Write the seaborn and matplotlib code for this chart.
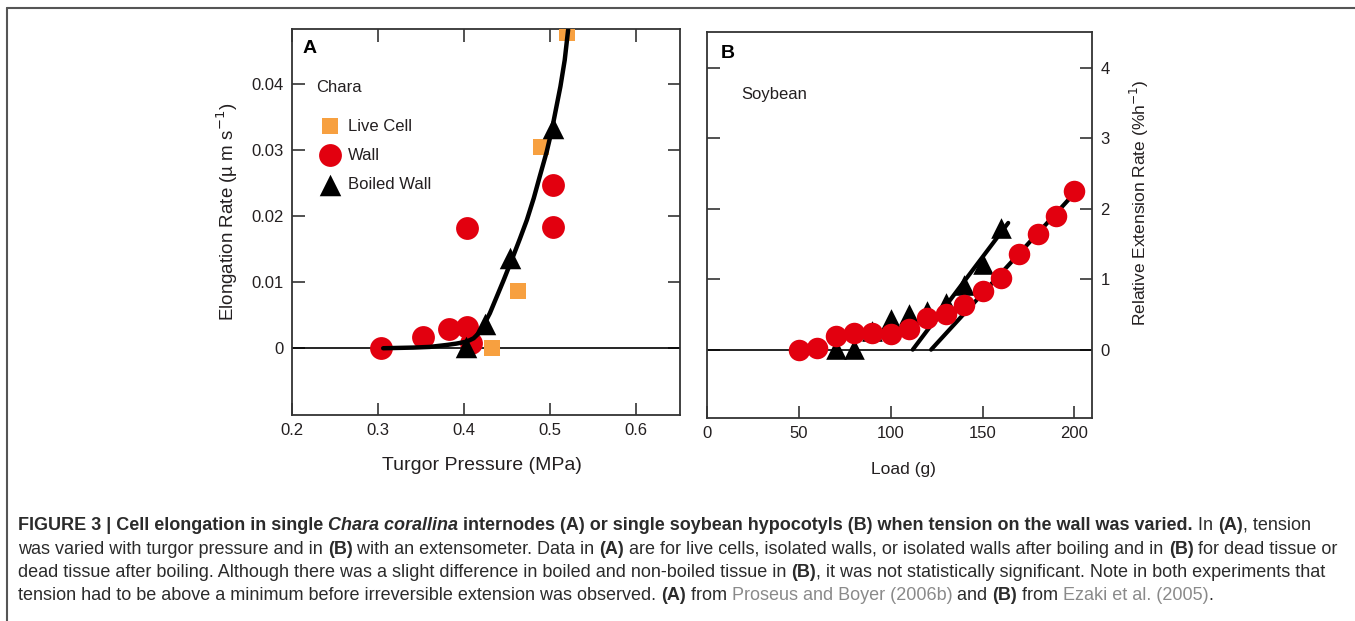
import matplotlib
matplotlib.use("Agg")
import matplotlib.pyplot as plt
import seaborn as sns

# ---- panel A: Chara (turgor pressure vs elongation rate)
turgor_live = [0.520, 0.489, 0.463, 0.433]
rate_live = [0.0477, 0.0305, 0.0086, 0.0]
turgor_wall = [0.303, 0.352, 0.383, 0.403, 0.408, 0.403, 0.503, 0.503]
rate_wall = [0.0, 0.0017, 0.0029, 0.0032, 0.0008, 0.0182, 0.0247, 0.0183]
turgor_boiled = [0.402, 0.424, 0.453, 0.503]
rate_boiled = [0.0002, 0.0037, 0.0136, 0.0333]
# fitted curve, points
curve_a_x = [0.306, 0.341, 0.360, 0.380, 0.391, 0.403, 0.411, 0.419, 0.424, 0.430, 0.438, 0.446,
             0.457, 0.465, 0.473, 0.481, 0.488, 0.496, 0.502, 0.507, 0.512, 0.517, 0.521]
curve_a_y = [0.0, 0.0001, 0.0002, 0.0005, 0.0007, 0.0010, 0.0015, 0.0025, 0.0038, 0.0053, 0.0078, 0.0103,
             0.0139, 0.0166, 0.0194, 0.0227, 0.0260, 0.0297, 0.0330, 0.0363, 0.0396, 0.0436, 0.0482]

# ---- panel B: soybean (load vs relative extension rate)
load_wall = [50, 60, 70, 80, 90, 100, 110, 120, 130, 140, 150, 160, 170, 180, 190, 200]
rer_wall = [0.0, 0.02, 0.19, 0.24, 0.24, 0.22, 0.29, 0.45, 0.50, 0.64, 0.84, 1.02, 1.36, 1.64, 1.90, 2.25]
load_boiled = [70, 80, 90, 100, 110, 120, 130, 140, 150, 160]
rer_boiled = [0.01, 0.01, 0.26, 0.43, 0.50, 0.55, 0.66, 0.92, 1.21, 1.73]
fit_boiled_x = [112, 164]
fit_boiled_y = [0.0, 1.80]
fit_wall_x = [122, 200]
fit_wall_y = [0.0, 2.22]

RED = "#E2000F"
ORANGE = "#F7A040"
INK = "#231F20"

sns.set_theme(style="ticks")
plt.rcParams["font.family"] = ["Liberation Sans", "DejaVu Sans"]
plt.rcParams["axes.edgecolor"] = "#333333"
plt.rcParams["axes.linewidth"] = 1.3

fig = plt.figure(figsize=(13.55, 6.21), dpi=100)
W, H = 1355, 621


def box(l, t, r, b):
    return [l / W, 1 - b / H, (r - l) / W, (b - t) / H]


# ================= panel A
ax = fig.add_axes(box(292, 29, 680, 415))
ax.axhline(0, color="black", lw=1.2, zorder=1)
sns.scatterplot(x=turgor_wall, y=rate_wall, ax=ax, color=RED, marker="o", s=270,
                linewidth=0, label="Wall", zorder=2, legend=False)
sns.scatterplot(x=turgor_live, y=rate_live, ax=ax, color=ORANGE, marker="s", s=125,
                linewidth=0, label="Live Cell", zorder=3, legend=False)
sns.lineplot(x=curve_a_x, y=curve_a_y, ax=ax, color="black", lw=3.2, sort=False,
             estimator=None, zorder=4)
sns.scatterplot(x=turgor_boiled, y=rate_boiled, ax=ax, color="black", marker="^", s=240,
                linewidth=0, label="Boiled Wall", zorder=5, legend=False)

ax.set_xlim(0.2, 0.651)
ax.set_ylim(-0.0101, 0.0483)
ax.set_xticks([0.2, 0.3, 0.4, 0.5, 0.6])
ax.set_xticklabels(["0.2", "0.3", "0.4", "0.5", "0.6"])
ax.set_yticks([0, 0.01, 0.02, 0.03, 0.04])
ax.set_yticklabels(["0", "0.01", "0.02", "0.03", "0.04"])
ax.tick_params(direction="in", length=9, width=1.2, color="#333333",
               labelsize=12, labelcolor=INK, top=True, right=True, pad=6)
ax.set_xlabel("Turgor Pressure (MPa)", fontsize=14, color=INK)
ax.xaxis.set_label_coords(0.49, -0.109)
ax.set_ylabel("Elongation Rate (µ m s$^{-1}$)", fontsize=13.5, color=INK)
ax.yaxis.set_label_coords(-0.134, 0.526)

handles, labels = ax.get_legend_handles_labels()
order = [labels.index(n) for n in ["Live Cell", "Wall", "Boiled Wall"]]
ax.legend([handles[i] for i in order], [labels[i] for i in order],
          loc="upper left", bbox_to_anchor=(0.0765, 0.768), frameon=False,
          fontsize=12, handlelength=1.0, handletextpad=0.6, labelspacing=0.85,
          borderpad=0, borderaxespad=0, labelcolor=INK)
ax.text(0.028, 0.95, "A", transform=ax.transAxes, fontsize=14, fontweight="bold",
        color="black", va="center", ha="left")
ax.text(0.062, 0.849, "Chara", transform=ax.transAxes, fontsize=12, color=INK,
        va="center", ha="left")

# ================= panel B
bx = fig.add_axes(box(707, 32, 1092, 418))
bx.axhline(0, color="black", lw=1.2, zorder=1)
sns.lineplot(x=fit_boiled_x, y=fit_boiled_y, ax=bx, color="black", lw=3, zorder=2)
sns.lineplot(x=fit_wall_x, y=fit_wall_y, ax=bx, color="black", lw=3, zorder=2)
sns.scatterplot(x=load_boiled, y=rer_boiled, ax=bx, color="black", marker="^", s=220,
                linewidth=0, zorder=3, legend=False)
sns.scatterplot(x=load_wall, y=rer_wall, ax=bx, color=RED, marker="o", s=240,
                linewidth=0, zorder=4, legend=False)

bx.set_xlim(0, 209.6)
bx.set_ylim(-0.97, 4.51)
bx.set_xticks([0, 50, 100, 150, 200])
bx.set_yticks([0, 1, 2, 3, 4])
bx.tick_params(direction="in", length=9, width=1.2, color="#333333",
               labelsize=12, labelcolor=INK, pad=6)
bx.tick_params(axis="y", left=True, right=True, labelleft=False, labelright=True)
bx.yaxis.set_label_position("right")
bx.set_ylabel("Relative Extension Rate (%h$^{-1}$)", fontsize=12.5, color=INK)
bx.yaxis.set_label_coords(1.094, 0.557)
bx.set_xlabel("Load (g)", fontsize=12.5, color=INK)
bx.xaxis.set_label_coords(0.509, -0.114)
bx.text(0.035, 0.945, "B", transform=bx.transAxes, fontsize=14, fontweight="bold",
        color="black", va="center", ha="left")
bx.text(0.09, 0.838, "Soybean", transform=bx.transAxes, fontsize=12, color=INK,
        va="center", ha="left")

# ================= outer frame (left and top edges)
fig.add_artist(plt.Line2D([7 / W, 7 / W], [0, 1 - 8 / H], color="#555555", lw=1.5))
fig.add_artist(plt.Line2D([7 / W, 1], [1 - 8 / H, 1 - 8 / H], color="#555555", lw=1.5))

# ================= caption
GREY = "#8A8A8A"
caption = [
    [("FIGURE 3 | Cell elongation in single ", "b"), ("Chara corallina", "bi"),
     (" internodes (A) or single soybean hypocotyls (B) when tension on the wall was varied.", "b"),
     (" In ", "n"), ("(A)", "b"), (", tension", "n")],
    [("was varied with turgor pressure and in ", "n"), ("(B)", "b"),
     (" with an extensometer. Data in ", "n"), ("(A)", "b"),
     (" are for live cells, isolated walls, or isolated walls after boiling and in ", "n"),
     ("(B)", "b"), (" for dead tissue or", "n")],
    [("dead tissue after boiling. Although there was a slight difference in boiled and non-boiled tissue in ", "n"),
     ("(B)", "b"), (", it was not statistically significant. Note in both experiments that", "n")],
    [("tension had to be above a minimum before irreversible extension was observed. ", "n"),
     ("(A)", "b"), (" from ", "n"), ("Proseus and Boyer (2006b)", "g"), (" and ", "n"),
     ("(B)", "b"), (" from ", "n"), ("Ezaki et al. (2005)", "g"), (".", "n")],
]
baselines = [530, 553.5, 577, 600.5]

renderer = fig.canvas.get_renderer()
for runs, yb in zip(caption, baselines):
    x = 18
    for txt, st in runs:
        t = fig.text(x / W, 1 - yb / H, txt, fontsize=13.0,
                     fontweight="bold" if "b" in st else "normal",
                     fontstyle="italic" if "i" in st else "normal",
                     color=GREY if st == "g" else "#2B2B2B", va="baseline", ha="left")
        x += t.get_window_extent(renderer).width

fig.savefig("out.png", dpi=100)
